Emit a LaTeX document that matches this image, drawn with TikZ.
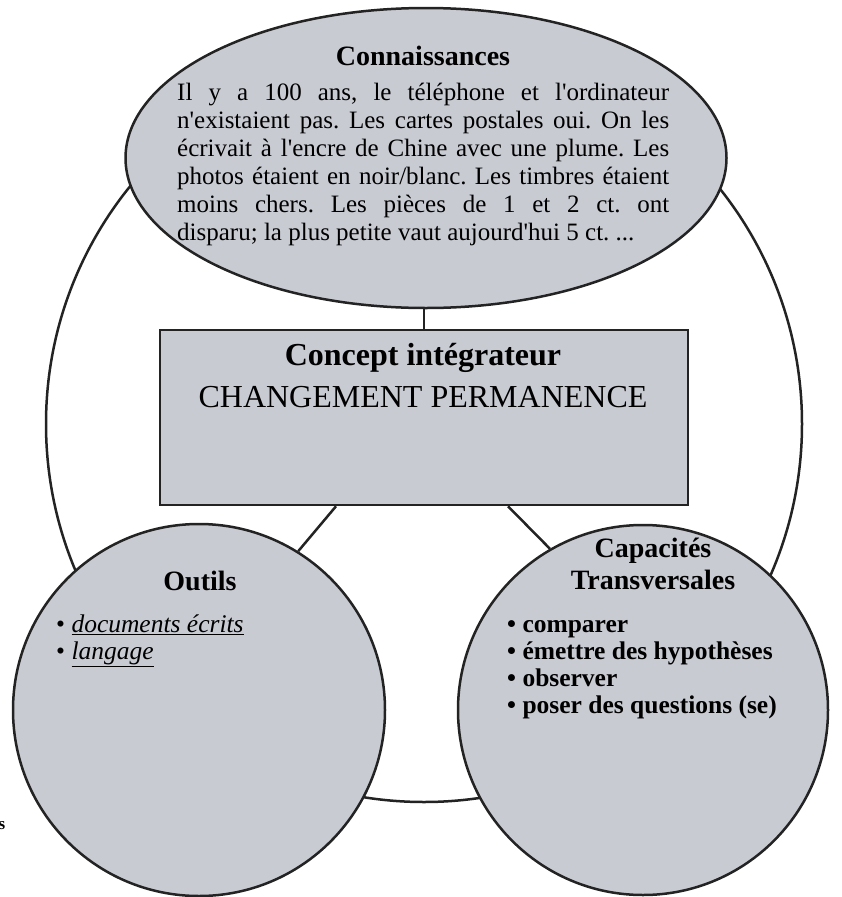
\documentclass[tikz,border=0pt]{standalone}
\usepackage{fontspec}
\setmainfont{Liberation Serif}[Ligatures=TeXOff]
\usepackage{tikz}
\usetikzlibrary{shapes.geometric,calc}
\definecolor{bubble}{RGB}{201,203,211}
\definecolor{ink}{RGB}{35,35,35}
\pgfdeclarelayer{back}
\pgfsetlayers{back,main}
\frenchspacing

\begin{document}
\begin{tikzpicture}[x=1pt,y=-1pt,
    blob/.style={draw=ink,line width=2.5pt,fill=bubble,inner sep=0pt},
    link/.style={draw=ink,line width=2.5pt},
    head/.style={inner sep=0pt,font=\fontsize{28}{32}\selectfont\bfseries},
    body/.style={inner sep=0pt,font=\fontsize{25}{28}\selectfont},
    items/.style={inner sep=0pt,align=left,font=\fontsize{25.5}{27}\selectfont}]
\useasboundingbox (0,0) rectangle (841,897);
            \node[blob,ellipse,minimum width=601pt,minimum height=300pt] at (426,158) (know) {};
            \node[blob,rectangle,minimum width=528pt,minimum height=175pt] at (424,417.5) (concept) {};
            \node[blob,circle,minimum size=372pt] at (199,710) (outils) {};
            \node[blob,circle,minimum size=370pt] at (643,710) (capa) {};
            \begin{pgfonlayer}{back}
            \node[circle,draw=ink,line width=2.5pt,minimum size=756pt] at (424,424) (ring) {};
            \draw[link] (concept.north |- know.south) to (concept.north);
            \draw[link] ($(concept.south)+(-88,0)$) to (outils.58);
            \draw[link] ($(concept.south)+(84,0)$) to (capa.120);
            \end{pgfonlayer}
            \node[head,anchor=base] at (423,65) (knowhead) {Connaissances};
            \node[body,anchor=base west,text width=492pt,align=justify] at (177,100) (knowtext) {Il y a 100 ans, le téléphone et l'ordinateur\linebreak n'existaient pas. Les cartes postales oui. On les\linebreak écrivait à l'encre de Chine avec une plume. Les\linebreak photos étaient en noir/blanc. Les timbres étaient\linebreak moins chers. Les pièces de 1 et 2 ct. ont\linebreak disparu; la plus petite vaut aujourd'hui 5 ct. ...};
            \node[head,font=\fontsize{32}{36}\selectfont\bfseries,anchor=base] at (423,365) (concepthead) {Concept intégrateur};
            \node[head,font=\fontsize{32}{36}\selectfont,anchor=base] at (423,407) (conceptname) {CHANGEMENT PERMANENCE};
            \node[head,anchor=base] at (200,590) (outilshead) {Outils};
            \node[items,anchor=base west] at (56,659) (outilslist) {\textbullet\ \underline{\textit{documents écrits}}\\\textbullet\ \underline{\textit{langage}}};
            \node[head,align=center,anchor=base] at (653,589) (capahead) {Capacités\\Transversales};
            \node[items,font=\fontsize{25.5}{27}\selectfont\bfseries,anchor=base west] at (507,713) (capalist) {\textbullet\ comparer\\\textbullet\ émettre des hypothèses\\\textbullet\ observer\\\textbullet\ poser des questions (se)};
            \node[items,font=\fontsize{17}{20}\selectfont\bfseries,anchor=base west] at (-1.5,829) (stray) {s};
        \end{tikzpicture}
\end{document}
